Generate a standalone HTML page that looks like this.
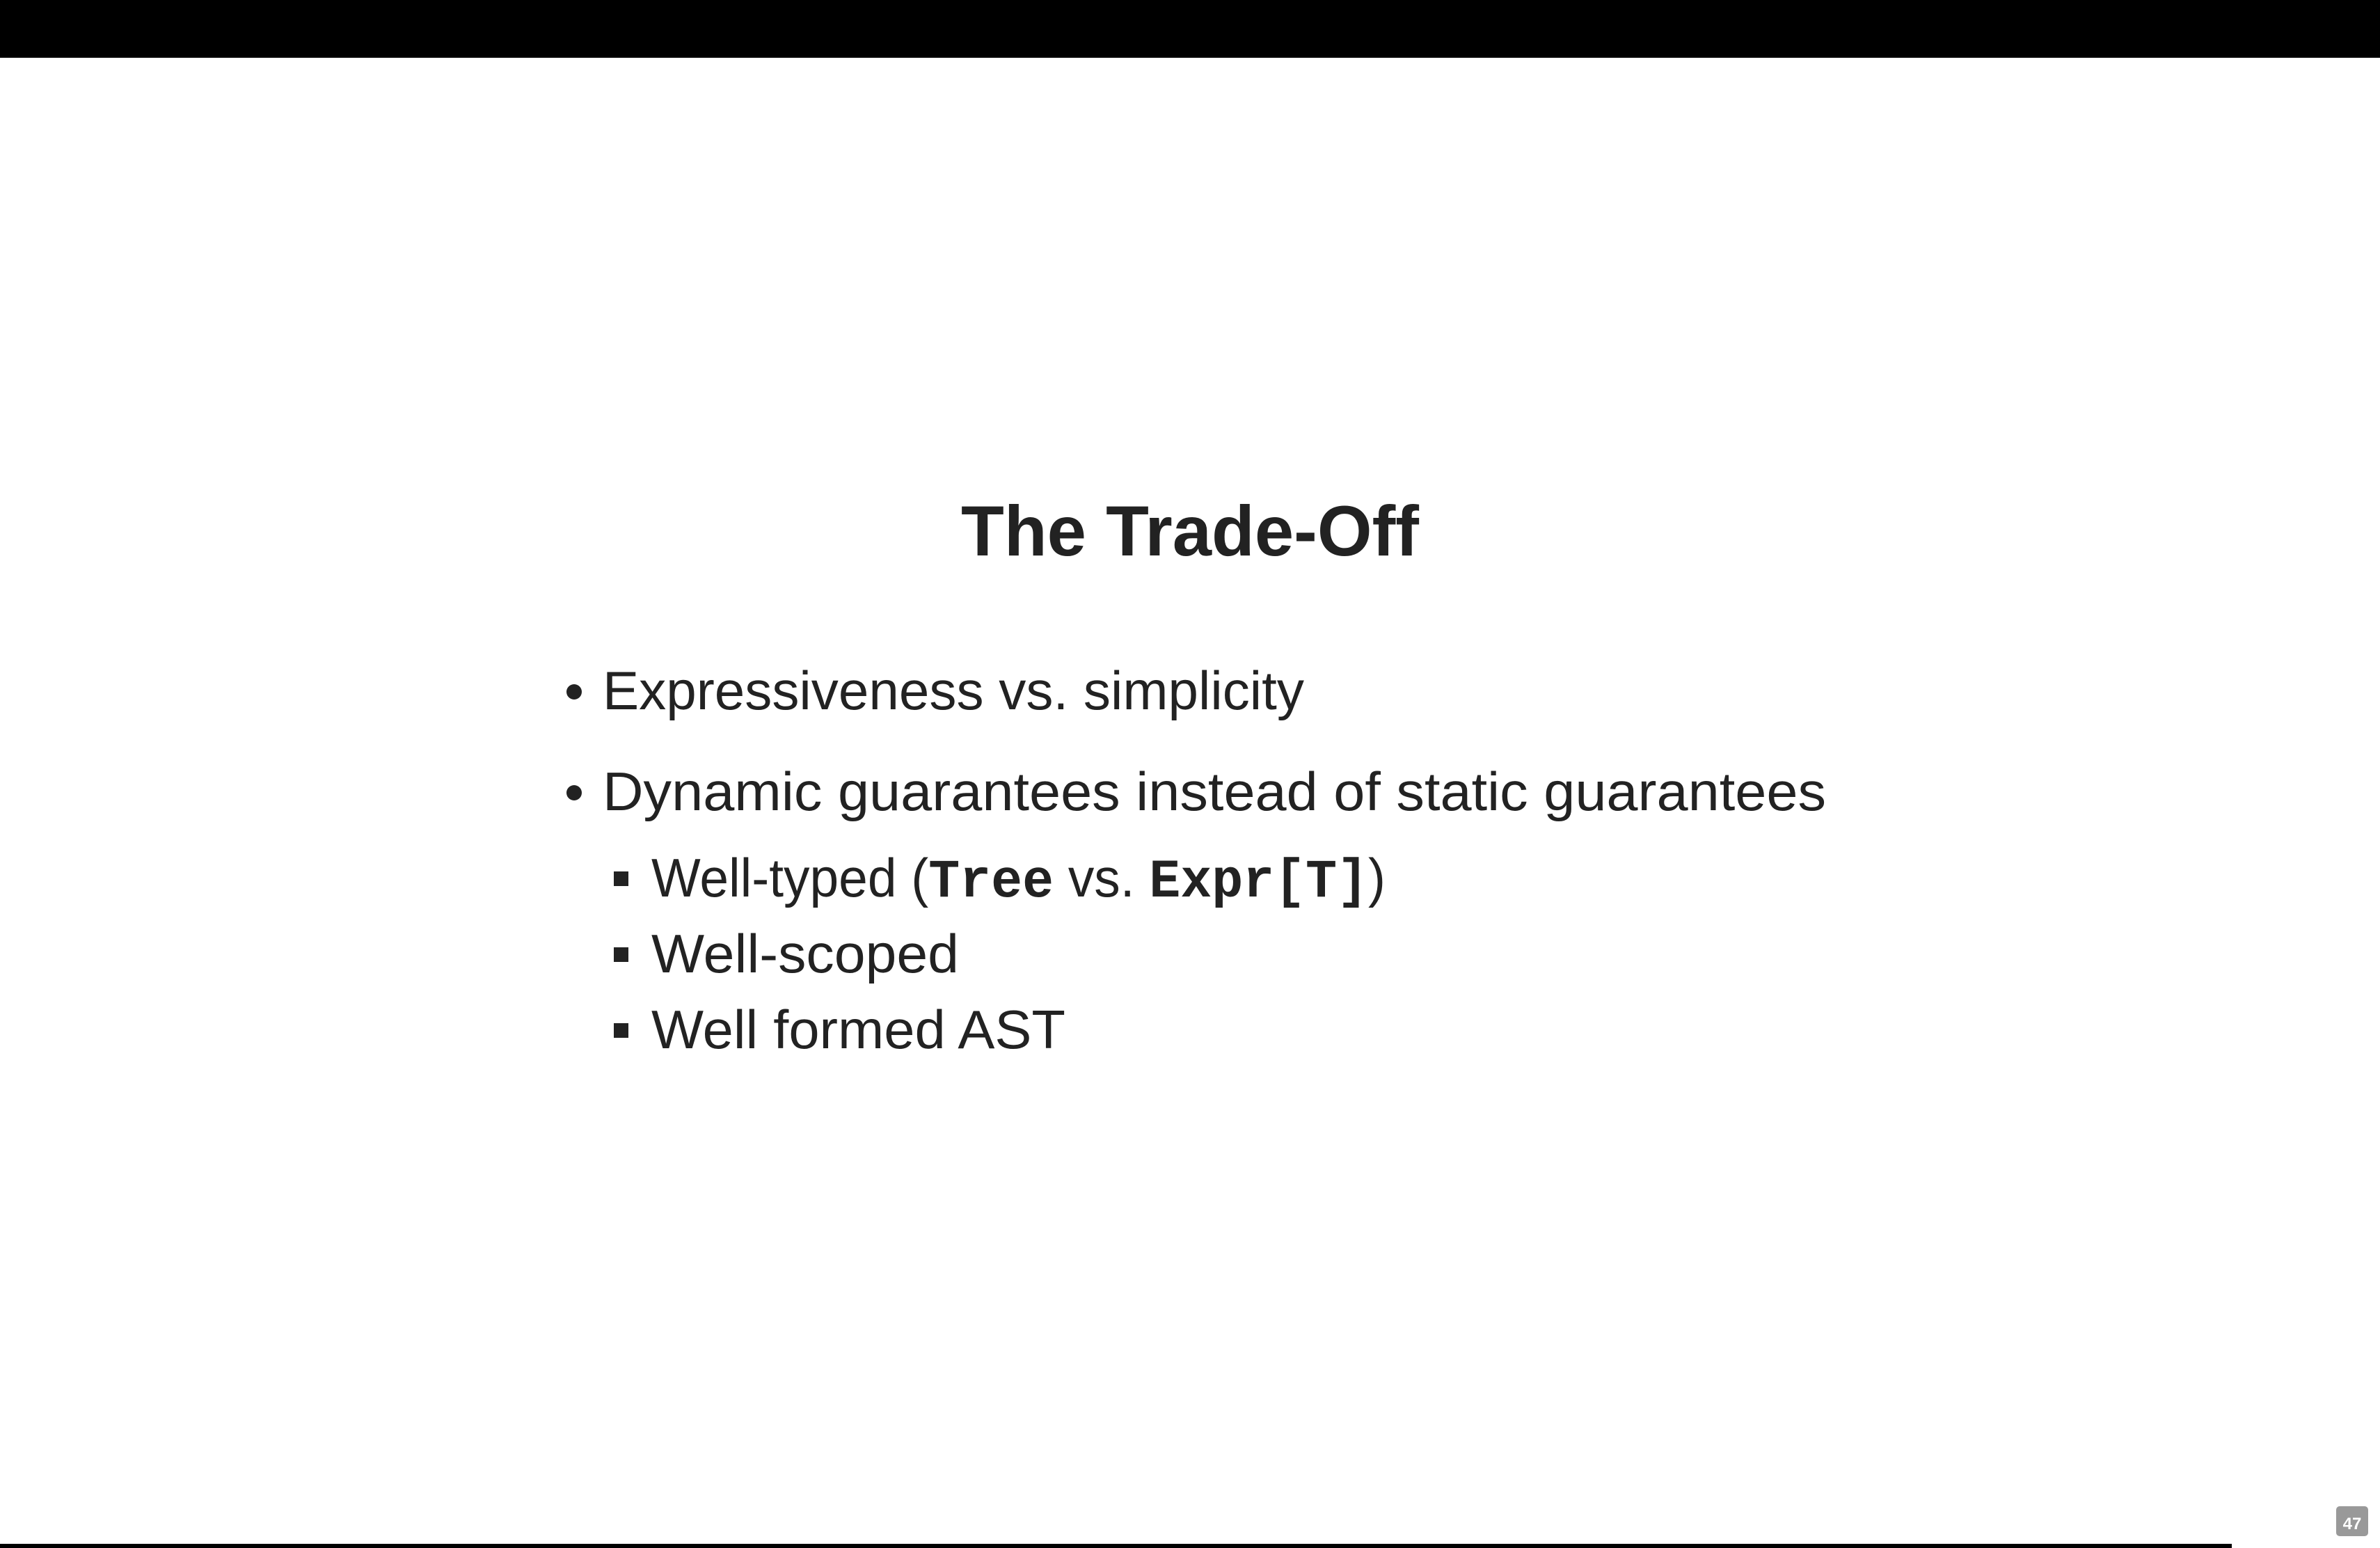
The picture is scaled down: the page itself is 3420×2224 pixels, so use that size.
<!DOCTYPE html>
<html><head><meta charset="utf-8"><style>html,body{margin:0;padding:0;background:#fff}svg{display:block}</style></head>
<body>
<svg width="3420" height="2224" viewBox="0 0 3420 2224" xmlns="http://www.w3.org/2000/svg">
<rect x="0" y="0" width="3420" height="83" fill="#000"/>
<g fill="#222" font-family="Liberation Sans, sans-serif">
<text x="1381" y="798" font-size="102" font-weight="bold" textLength="658" lengthAdjust="spacingAndGlyphs">The Trade-Off</text>
<circle cx="825" cy="994" r="11"/>
<text x="866" y="1019" font-size="78" textLength="1008" lengthAdjust="spacingAndGlyphs">Expressiveness vs. simplicity</text>
<circle cx="825" cy="1139" r="11"/>
<text x="866" y="1164" font-size="78" textLength="1758" lengthAdjust="spacingAndGlyphs">Dynamic guarantees instead of static guarantees</text>
<rect x="882" y="1252" width="21" height="21"/>
<text x="936" y="1288" font-size="78" textLength="1055" lengthAdjust="spacingAndGlyphs">Well-typed (<tspan font-family="Liberation Mono, monospace" font-weight="bold">Tree</tspan> vs. <tspan font-family="Liberation Mono, monospace" font-weight="bold">Expr[T]</tspan>)</text>
<rect x="882" y="1361" width="21" height="21"/>
<text x="936" y="1397" font-size="78" textLength="442" lengthAdjust="spacingAndGlyphs">Well-scoped</text>
<rect x="882" y="1470" width="21" height="21"/>
<text x="936" y="1506" font-size="78" textLength="595" lengthAdjust="spacingAndGlyphs">Well formed AST</text>
</g>
<rect x="0" y="2218" width="3207" height="6" fill="#000"/>
<rect x="3357" y="2164" width="46" height="43" rx="5" fill="#999"/>
<text x="3380" y="2197" font-size="24" font-weight="bold" fill="#fff" text-anchor="middle" font-family="Liberation Sans, sans-serif">47</text>
</svg>
</body></html>
